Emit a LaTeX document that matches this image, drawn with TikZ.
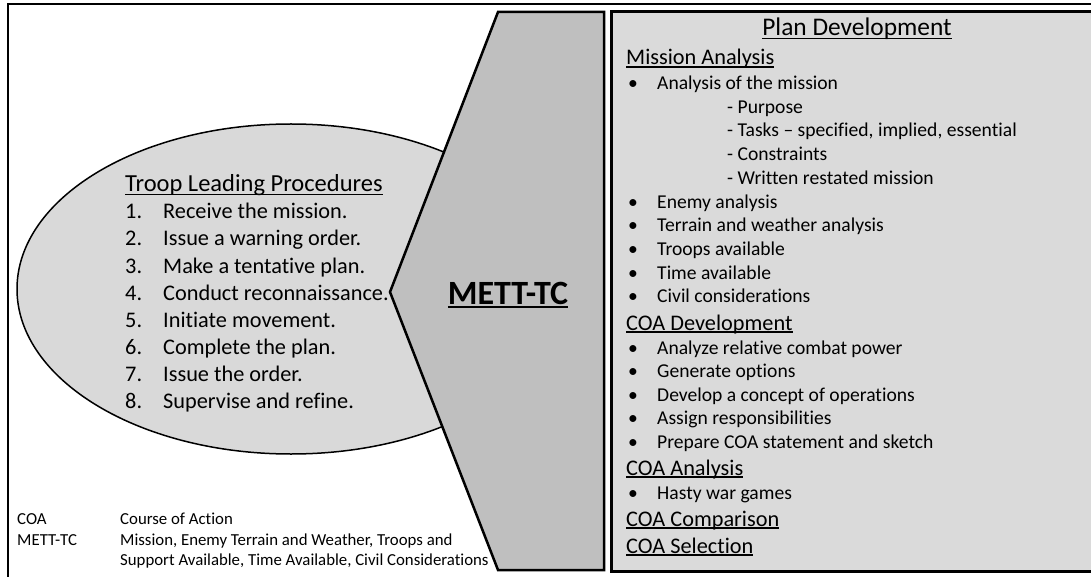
\documentclass[tikz,border=0pt]{standalone}
\usepackage{fontspec}
\setmainfont{Carlito}[Ligatures={NoCommon}]
\usetikzlibrary{positioning}
\tikzset{>=latex}
\newcommand\ulbox[1]{\setbox0\hbox{#1}\rlap{\rule[-0.13em]{\wd0}{0.065em}}\box0}
\tikzset{
    txt/.style={inner sep=0pt, anchor=base west},
    tlpfont/.style={txt, font=\fontsize{22.3}{27}\selectfont},
    headfont/.style={txt, font=\fontsize{22.3}{27}\selectfont},
    itemfont/.style={txt, font=\fontsize{19.6}{23.5}\selectfont},
    keyfont/.style={txt, font=\fontsize{16.8}{20.5}\selectfont}
}

\begin{document}
\begin{tikzpicture}[x=1pt, y=-1pt]
    \useasboundingbox (0, 0) rectangle (1091, 577);
    \clip (0, 0) rectangle (1091, 577);
    \coordinate (ne) at (498, 12);
    \coordinate (nw) at (604, 12);
    \coordinate (sw) at (604, 570);
    \coordinate (se) at (498, 570);
    \coordinate (tip) at (390, 292);
    % troop leading procedures
    \filldraw[fill=gray!30, line width=1.5](291, 289)ellipse(274 and 165);
    % mett-tc shape
    \filldraw[fill=gray!50, line width=2.5](ne)--(nw)--(sw)--(se)--(tip)--cycle;
    % plan development box and frame
    \filldraw[fill=gray!29, line width=3](611.5, 11.5)rectangle(1130, 571);
    \draw[line width=2.8](8, 4)rectangle(1130, 620);

    \node[txt, font=\fontsize{24.5}{27}\selectfont] (tlp) at (125, 192) {\ulbox{Troop Leading Procedures}};
    \node[tlpfont] (n1) at (125, 219) {1.};
    \node[tlpfont] (n2) at (125, 246) {2.};
    \node[tlpfont] (n3) at (125, 273) {3.};
    \node[tlpfont] (n4) at (125, 300) {4.};
    \node[tlpfont] (n5) at (125, 327) {5.};
    \node[tlpfont] (n6) at (125, 354) {6.};
    \node[tlpfont] (n7) at (125, 381) {7.};
    \node[tlpfont] (n8) at (125, 408) {8.};
    \node[tlpfont] (s1) at (163, 219) {Receive the mission.};
    \node[tlpfont] (s2) at (163, 246) {Issue a warning order.};
    \node[tlpfont] (s3) at (163, 273) {Make a tentative plan.};
    \node[tlpfont] (s4) at (163, 300) {Conduct reconnaissance.};
    \node[tlpfont] (s5) at (163, 327) {Initiate movement.};
    \node[tlpfont] (s6) at (163, 354) {Complete the plan.};
    \node[tlpfont] (s7) at (163, 381) {Issue the order.};
    \node[tlpfont] (s8) at (163, 408) {Supervise and refine.};

    \node[inner sep=0pt, anchor=base, font=\fontsize{34}{36}\bfseries] (mett) at (508, 304) {\ulbox{METT-TC}};

    % key
    \node[keyfont] (k1) at (17, 524.5) {COA};
    \node[keyfont] (k2) at (17, 545) {METT-TC};
    \node[keyfont] (d1) at (120, 524.5) {Course of Action};
    \node[keyfont] (d2) at (120, 545) {Mission, Enemy Terrain and Weather, Troops and};
    \node[keyfont] (d3) at (120, 565.5) {Support Available, Time Available, Civil Considerations};

    % plan development
    \node[inner sep=0pt, anchor=base, font=\fontsize{25.4}{28}\selectfont] (plan) at (857, 36) {\ulbox{Plan Development}};
    \node[headfont] (ma) at (626, 65) {\ulbox{Mission Analysis}};
    \node[itemfont] (b1) at (628, 89.5) {•};
    \node[itemfont] (ma1) at (657, 89.5) {Analysis of the mission};
    \node[itemfont] (ma1a) at (727, 113.5) {- Purpose};
    \node[itemfont] (ma1b) at (727, 136.5) {- Tasks – specified, implied, essential};
    \node[itemfont] (ma1c) at (727, 160.5) {- Constraints};
    \node[itemfont] (ma1d) at (727, 184.5) {- Written restated mission};
    \node[itemfont] (b2) at (628, 208.5) {•};
    \node[itemfont] (ma2) at (657, 208.5) {Enemy analysis};
    \node[itemfont] (b3) at (628, 231.5) {•};
    \node[itemfont] (ma3) at (657, 231.5) {Terrain and weather analysis};
    \node[itemfont] (b4) at (628, 255.5) {•};
    \node[itemfont] (ma4) at (657, 255.5) {Troops available};
    \node[itemfont] (b5) at (628, 279.5) {•};
    \node[itemfont] (ma5) at (657, 279.5) {Time available};
    \node[itemfont] (b6) at (628, 302.5) {•};
    \node[itemfont] (ma6) at (657, 302.5) {Civil considerations};
    \node[headfont] (cd) at (626, 330) {\ulbox{COA Development}};
    \node[itemfont] (b7) at (628, 354.5) {•};
    \node[itemfont] (cd1) at (657, 354.5) {Analyze relative combat power};
    \node[itemfont] (b8) at (628, 377.5) {•};
    \node[itemfont] (cd2) at (657, 377.5) {Generate options};
    \node[itemfont] (b9) at (628, 401.5) {•};
    \node[itemfont] (cd3) at (657, 401.5) {Develop a concept of operations};
    \node[itemfont] (b10) at (628, 424.5) {•};
    \node[itemfont] (cd4) at (657, 424.5) {Assign responsibilities};
    \node[itemfont] (b11) at (628, 448.5) {•};
    \node[itemfont] (cd5) at (657, 448.5) {Prepare COA statement and sketch};
    \node[headfont] (can) at (626, 475) {\ulbox{COA Analysis}};
    \node[itemfont] (b12) at (628, 499.5) {•};
    \node[itemfont] (can1) at (657, 499.5) {Hasty war games};
    \node[headfont] (cc) at (626, 526) {\ulbox{COA Comparison}};
    \node[headfont] (cs) at (626, 553) {\ulbox{COA Selection}};
\end{tikzpicture}
\end{document}
